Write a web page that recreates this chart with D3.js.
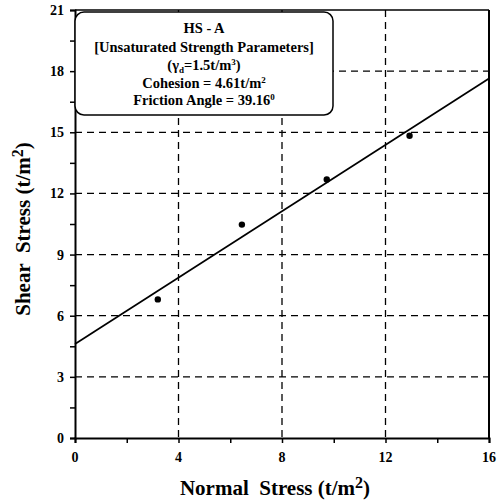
<!DOCTYPE html>
<html>
<head>
<meta charset="utf-8">
<script src="https://cdn.jsdelivr.net/npm/d3@7"></script>
<style>
  body { margin: 0; background: #fff; }
  text { font-family: "Liberation Serif", "Times New Roman", serif; font-weight: bold; white-space: pre; }
</style>
</head>
<body>
<div id="chart"></div>
<script>
// measured points (normal stress, shear stress)
var normalStress = [3.2, 6.45, 9.73, 12.93];
var shearStress = [6.8, 10.47, 12.68, 14.83];
var cohesion = 4.61, frictionAngle = 39.16;
var xTicks = [0, 4, 8, 12, 16];
var yTicks = [0, 3, 6, 9, 12, 15, 18, 21];
var boxLines = ["HS - A", "[Unsaturated Strength Parameters]"];

var W = 502, H = 503;
var margin = {top: 10, right: 13, bottom: 65, left: 75},
    w = W - margin.left - margin.right,
    h = H - margin.top - margin.bottom;

var svg = d3.select("#chart").append("svg")
    .attr("width", W)
    .attr("height", H);

var g = svg.append("g")
    .attr("transform", "translate(" + margin.left + "," + margin.top + ")");

var x = d3.scaleLinear().domain([0, 16]).range([0, w]);
var y = d3.scaleLinear().domain([0, 21]).range([h, 0]);

// grid
g.selectAll(".vgrid").data([4, 8, 12]).enter().append("line")
    .attr("x1", d => x(d)).attr("x2", d => x(d))
    .attr("y1", 0).attr("y2", h)
    .attr("stroke", "#000").attr("stroke-width", 1.3)
    .attr("stroke-dasharray", "7,5");

g.selectAll(".hgrid").data([3, 6, 9, 12, 15, 18]).enter().append("line")
    .attr("x1", 0).attr("x2", w)
    .attr("y1", d => y(d)).attr("y2", d => y(d))
    .attr("stroke", "#000").attr("stroke-width", 1.3)
    .attr("stroke-dasharray", "7,5");

// axes
var xAxis = g.append("g")
    .attr("transform", "translate(0," + h + ")")
    .call(d3.axisBottom(x).tickValues(d3.range(0, 17, 2)).tickSize(5).tickFormat(""));
var yAxis = g.append("g")
    .call(d3.axisLeft(y).tickValues(d3.range(0, 21.1, 1.5)).tickSize(5).tickFormat(""));
[xAxis, yAxis].forEach(function(a) {
    a.select(".domain").attr("stroke-width", 2);
    a.selectAll(".tick line").attr("stroke-width", 1.5);
});

g.selectAll(".xlab").data(xTicks).enter().append("text")
    .attr("x", d => x(d)).attr("y", h + 24)
    .attr("text-anchor", "middle")
    .style("font-size", "14px")
    .text(d => d);

g.selectAll(".ylab").data(yTicks).enter().append("text")
    .attr("x", -11).attr("y", d => y(d) + 5)
    .attr("text-anchor", "end")
    .style("font-size", "14px")
    .text(d => d);

// top and right frame
g.append("line").attr("x1", 0).attr("x2", w).attr("y1", 0).attr("y2", 0)
    .attr("stroke", "#000").attr("stroke-width", 1.5);
g.append("line").attr("x1", w).attr("x2", w).attr("y1", 0).attr("y2", h)
    .attr("stroke", "#000").attr("stroke-width", 2);

// fit line
var slope = Math.tan(frictionAngle * Math.PI / 180);
g.append("line")
    .attr("x1", x(0)).attr("y1", y(cohesion))
    .attr("x2", x(16)).attr("y2", y(cohesion + slope * 16))
    .attr("stroke", "#000").attr("stroke-width", 1.7);

// points
g.selectAll(".pt").data(normalStress).enter().append("circle")
    .attr("cx", d => x(d))
    .attr("cy", (d, i) => y(shearStress[i]))
    .attr("r", 3.2)
    .attr("fill", "#000");

// info box
var box = g.append("g");
box.append("rect")
    .attr("x", 0).attr("y", 2)
    .attr("width", 258).attr("height", 103)
    .attr("rx", 9).attr("ry", 9)
    .attr("fill", "#fff").attr("stroke", "#000").attr("stroke-width", 1.5);

var cx = 129, fs = "14.5px", sup = "9px";
box.append("text").attr("x", cx).attr("y", 23).attr("text-anchor", "middle")
    .style("font-size", fs).text(boxLines[0]);
box.append("text").attr("x", cx).attr("y", 42).attr("text-anchor", "middle")
    .style("font-size", fs).text(boxLines[1]);

var t3 = box.append("text").attr("x", cx).attr("y", 60).attr("text-anchor", "middle")
    .style("font-size", fs);
t3.append("tspan").text("(\u03B3");
t3.append("tspan").attr("dy", 3).style("font-size", sup).text("d");
t3.append("tspan").attr("dy", -3).text("=1.5t/m");
t3.append("tspan").attr("dy", -5).style("font-size", sup).text("3");
t3.append("tspan").attr("dy", 5).text(")");

var t4 = box.append("text").attr("x", cx).attr("y", 78).attr("text-anchor", "middle")
    .style("font-size", fs);
t4.append("tspan").text("Cohesion = " + cohesion + "t/m");
t4.append("tspan").attr("dy", -5).style("font-size", sup).text("2");

var t5 = box.append("text").attr("x", cx).attr("y", 95).attr("text-anchor", "middle")
    .style("font-size", fs);
t5.append("tspan").text("Friction Angle = " + frictionAngle);
t5.append("tspan").attr("dy", -5).style("font-size", sup).text("0");

// axis titles
var xt = svg.append("text")
    .attr("x", margin.left + w / 2 - 7).attr("y", 495)
    .attr("text-anchor", "middle")
    .style("font-size", "21px");
xt.append("tspan").text("Normal  Stress (t/m");
xt.append("tspan").attr("dy", -7).style("font-size", "16px").text("2");
xt.append("tspan").attr("dy", 7).text(")");

var yt = svg.append("text")
    .attr("transform", "translate(30," + 229 + ") rotate(-90)")
    .attr("text-anchor", "middle")
    .style("font-size", "21px");
yt.append("tspan").text("Shear  Stress (t/m");
yt.append("tspan").attr("dy", -7).style("font-size", "16px").text("2");
yt.append("tspan").attr("dy", 7).text(")");
</script>
</body>
</html>
